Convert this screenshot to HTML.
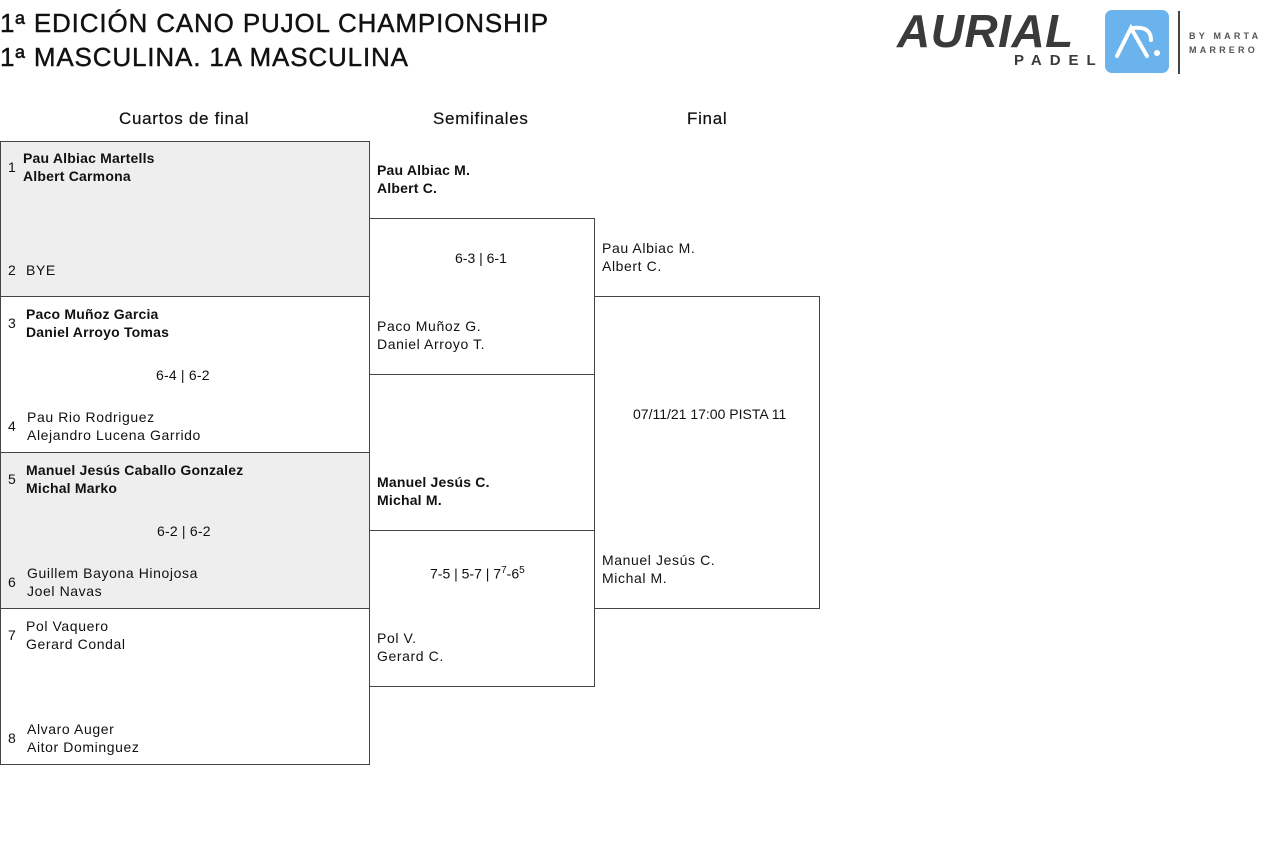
<!DOCTYPE html>
<html><head><meta charset="utf-8"><style>
body{margin:0;width:1280px;height:850px;background:#fff;font-family:"Liberation Sans",sans-serif;color:#111;position:relative;overflow:hidden}
.a{position:absolute;white-space:nowrap}
.t{font-size:14px;line-height:18px;letter-spacing:0.6px}
.b{font-weight:bold;letter-spacing:0.2px}
.box{position:absolute;border:1px solid #444;box-sizing:border-box}
.h{font-size:26px;line-height:32px;color:#111;letter-spacing:0.85px;-webkit-text-stroke:0.4px #111}
.hd{font-size:17px;letter-spacing:0.7px;-webkit-text-stroke:0.2px #111}
</style></head><body>
<div class="a h" style="left:0;top:7px">1ª EDICIÓN CANO PUJOL CHAMPIONSHIP</div>
<div class="a h" style="left:0;top:41px">1ª MASCULINA. 1A MASCULINA</div>

<!-- logo -->
<div class="a" style="left:897px;top:4px;font-size:46px;font-weight:bold;font-style:italic;color:#3a3a3a;letter-spacing:0.5px">AURIAL</div>
<div class="a" style="left:1014px;top:52px;font-size:15px;font-weight:bold;color:#3a3a3a;letter-spacing:8px">PADEL</div>
<div class="a" style="left:1105px;top:10px;width:64px;height:63px;background:#6bb3ec;border-radius:7px"></div>
<svg class="a" style="left:1105px;top:10px" width="64" height="63"><path d="M12 46 L26 18 L42 46 M28 18 Q46 16 46 30" stroke="#fff" stroke-width="4" fill="none" stroke-linecap="round"/><circle cx="52" cy="43" r="3" fill="#fff"/></svg>
<div class="a" style="left:1178px;top:11px;width:2px;height:63px;background:#444"></div>
<div class="a" style="left:1189px;top:29px;font-size:9px;font-weight:bold;color:#555;letter-spacing:3.2px;line-height:14px">BY MARTA<br>MARRERO</div>

<div class="a hd" style="left:119px;top:109px">Cuartos de final</div>
<div class="a hd" style="left:433px;top:109px">Semifinales</div>
<div class="a hd" style="left:687px;top:109px">Final</div>

<div class="box" style="left:0;top:141px;width:370px;height:156px;background:#eee"></div>
<div class="box" style="left:0;top:296px;width:370px;height:157px"></div>
<div class="box" style="left:0;top:452px;width:370px;height:157px;background:#eee"></div>
<div class="box" style="left:0;top:608px;width:370px;height:157px"></div>
<div class="box" style="left:369px;top:218px;width:226px;height:157px"></div>
<div class="box" style="left:369px;top:530px;width:226px;height:157px"></div>
<div class="box" style="left:594px;top:296px;width:226px;height:313px"></div>

<div class="a t" style="left:8px;top:158px">1</div>
<div class="a t b" style="left:23px;top:149px">Pau Albiac Martells<br>Albert Carmona</div>
<div class="a t" style="left:8px;top:261px">2</div>
<div class="a t" style="left:26px;top:261px">BYE</div>

<div class="a t" style="left:8px;top:314px">3</div>
<div class="a t b" style="left:26px;top:305px">Paco Muñoz Garcia<br>Daniel Arroyo Tomas</div>
<div class="a t" style="left:156px;top:366px;letter-spacing:0.2px">6-4 | 6-2</div>
<div class="a t" style="left:8px;top:417px">4</div>
<div class="a t" style="left:27px;top:408px">Pau Rio Rodriguez<br>Alejandro Lucena Garrido</div>

<div class="a t" style="left:8px;top:470px">5</div>
<div class="a t b" style="left:26px;top:461px">Manuel Jesús Caballo Gonzalez<br>Michal Marko</div>
<div class="a t" style="left:157px;top:522px;letter-spacing:0.2px">6-2 | 6-2</div>
<div class="a t" style="left:8px;top:573px">6</div>
<div class="a t" style="left:27px;top:564px">Guillem Bayona Hinojosa<br>Joel Navas</div>

<div class="a t" style="left:8px;top:626px">7</div>
<div class="a t" style="left:26px;top:617px">Pol Vaquero<br>Gerard Condal</div>
<div class="a t" style="left:8px;top:729px">8</div>
<div class="a t" style="left:27px;top:720px">Alvaro Auger<br>Aitor Dominguez</div>

<div class="a t b" style="left:377px;top:161px">Pau Albiac M.<br>Albert C.</div>
<div class="a t" style="left:455px;top:249px;letter-spacing:0">6-3 | 6-1</div>
<div class="a t" style="left:377px;top:317px">Paco Muñoz G.<br>Daniel Arroyo T.</div>
<div class="a t b" style="left:377px;top:473px">Manuel Jesús C.<br>Michal M.</div>
<div class="a t" style="left:430px;top:562px;letter-spacing:0">7-5 | 5-7 | 7<sup style="font-size:10px">7</sup>-6<sup style="font-size:10px">5</sup></div>
<div class="a t" style="left:377px;top:629px">Pol V.<br>Gerard C.</div>

<div class="a t" style="left:602px;top:239px">Pau Albiac M.<br>Albert C.</div>
<div class="a t" style="left:633px;top:405px;letter-spacing:0">07/11/21 17:00 PISTA 11</div>
<div class="a t" style="left:602px;top:551px">Manuel Jesús C.<br>Michal M.</div>
</body></html>
